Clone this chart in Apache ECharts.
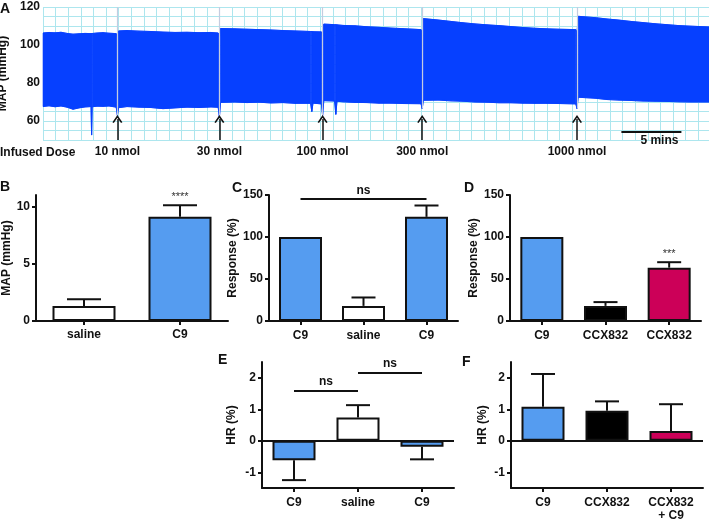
<!DOCTYPE html>
<html>
<head>
<meta charset="utf-8">
<script src="https://cdn.jsdelivr.net/npm/echarts@6/dist/echarts.min.js"></script>
<style>
  html, body { margin: 0; padding: 0; background: #fff; }
  #chart { width: 709px; height: 521px; }
</style>
</head>
<body>
<div id="chart"></div>
<script>
var FONT = '"Liberation Sans", Arial, sans-serif';
var INK = '#111111';
var TRACE_BLUE = '#0640ff';
var BAR_BLUE = '#559cf0';
var BAR_RED = '#cc0058';
var GRID_CYAN = '#ade6ee';

// A: MAP recording, band envelope (mmHg) against time (min)
var traceTime  = [0, 0.5, 1, 1.5, 2, 2.5, 3, 3.5, 4.0, 4.05, 4.1, 4.5, 5, 5.5, 6.1, 6.2, 6.3, 7, 8, 9, 10, 11, 12, 13, 14, 14.6, 14.7, 14.8, 16, 17, 18, 19, 20, 21, 22.3, 22.4, 22.5, 23.2, 23.3, 23.4, 24.3, 24.4, 24.5, 25, 26, 27, 28, 29, 30, 31.5, 31.6, 31.7, 33, 34, 35, 36, 37, 38, 39, 40, 41, 42, 43, 44.4, 44.5, 44.6, 46, 47, 48, 49, 50, 51, 52, 53, 54, 55.5];
var traceUpper = [106.3, 106.6, 106.4, 106.7, 106.1, 105.7, 105.9, 106.1, 106.0, 106.0, 106.0, 106.3, 106.5, 106.2, 106.0, 104.5, 107.4, 107.6, 107.3, 107.1, 106.8, 106.6, 106.7, 106.5, 106.6, 106.3, 104.5, 108.7, 108.5, 108.3, 108.1, 107.9, 107.6, 107.4, 107.1, 107.1, 107.0, 106.9, 105.0, 111.0, 110.7, 110.7, 110.6, 110.3, 110.1, 109.6, 109.3, 108.9, 108.6, 108.1, 106.0, 113.9, 113.1, 112.4, 111.7, 111.1, 110.6, 110.2, 109.7, 109.2, 108.8, 108.5, 108.3, 108.1, 106.0, 115.1, 114.4, 113.7, 113.1, 112.4, 111.8, 111.2, 110.7, 110.2, 109.9, 109.5];
var traceLower = [67.6, 68.0, 67.5, 67.9, 67.3, 66.2, 66.9, 67.4, 67.6, 52.6, 67.5, 67.8, 67.7, 67.9, 67.3, 63.0, 67.0, 67.6, 67.3, 67.1, 66.5, 66.9, 67.3, 67.1, 67.4, 67.2, 62.0, 69.8, 70.0, 69.7, 69.9, 69.5, 69.7, 69.3, 69.3, 65.0, 69.4, 69.0, 63.0, 70.7, 70.5, 63.5, 70.4, 70.1, 69.8, 69.7, 69.4, 69.4, 69.2, 69.1, 66.5, 70.9, 71.0, 70.6, 70.4, 70.0, 69.9, 69.6, 69.6, 69.4, 69.3, 69.3, 69.2, 69.0, 66.5, 72.5, 72.0, 71.3, 71.0, 70.8, 70.5, 70.4, 70.3, 70.1, 70.0, 70.0];
var doseTime   = [6.2, 14.7, 23.3, 31.6, 44.5];
var doseDip    = [63, 62, 63, 66.5, 66.5];
var doseLabels = ['10 nmol', '30 nmol', '100 nmol', '300 nmol', '1000 nmol'];
var mapTicks   = [60, 80, 100, 120];
var scaleBar   = { start: 48.2, length: 5, level: 54.2, text: '5 mins' };

// B: MAP change
var bCats  = ['saline', 'C9'];
var bMean  = [1.3, 9.1];
var bSem   = [0.6, 1.0];
var bStars = ['', '****'];

// C: response
var cCats = ['C9', 'saline', 'C9'];
var cMean = [100, 18, 124];
var cSem  = [0, 10, 13.5];
var cBrackets = [{ from: 0, to: 2, y: 145, text: 'ns' }];

// D: response with CCX832
var dCats  = ['C9', 'CCX832', 'CCX832'];
var dMean  = [100, 18, 63.5];
var dSem   = [0, 4.5, 6.5];
var dStars = ['', '', '***'];

// E: heart rate
var eCats = ['C9', 'saline', 'C9'];
var eMean = [-0.62, 0.74, -0.19];
var eSem  = [0.63, 0.39, 0.4];
var eBrackets = [
  { from: 0, to: 1, y: 1.59, text: 'ns' },
  { from: 1, to: 2, y: 2.15, text: 'ns' }
];

// F: heart rate with CCX832
var fCats = ['C9', 'CCX832', 'CCX832\n+ C9'];
var fMean = [1.08, 0.95, 0.31];
var fSem  = [1.04, 0.3, 0.85];

function txt(size, weight) {
  return { fontFamily: FONT, fontSize: size, fontWeight: weight || 'bold', color: INK };
}

var dom = document.getElementById('chart');
var myChart = echarts.init(dom, null, { renderer: 'canvas' });

var option = {
  animation: false,
  backgroundColor: '#ffffff',
  textStyle: { fontFamily: FONT },
  grid: [
    { left: 43, top: 7, width: 666, height: 133 },
    { left: 36, top: 195, width: 192, height: 126 },
    { left: 269, top: 195, width: 189, height: 126 },
    { left: 510, top: 195, width: 191, height: 126 },
    { left: 262, top: 362, width: 192, height: 126 },
    { left: 511, top: 362, width: 192, height: 126 }
  ].map(function (g) {
    g.containLabel = false;
    g.outerBoundsMode = 'none';
    return g;
  }),
  xAxis: [],
  yAxis: [],
  series: [],
  graphic: []
};

// ---- panel A
option.xAxis.push({
  gridIndex: 0, type: 'value', min: 0, max: 55.5, interval: 1.05,
  axisLine: { show: false }, axisTick: { show: false }, axisLabel: { show: false },
  splitLine: { show: true, lineStyle: { color: GRID_CYAN, width: 1 } }
});
option.yAxis.push({
  gridIndex: 0, type: 'value', min: 50, max: 120, interval: 5,
  name: 'MAP (mmHg)', nameLocation: 'middle', nameRotate: 90, nameGap: 29,
  nameTextStyle: txt(12),
  axisLine: { show: false }, axisTick: { show: false },
  axisLabel: Object.assign({ margin: 3, customValues: mapTicks }, txt(12)),
  splitLine: { show: true, lineStyle: { color: GRID_CYAN, width: 1 } }
});

var ARROW = 'path://M5,0 L10,9 L8.6,10 L5,3.2 L1.4,10 L0,9 Z';
var traceMarks = [];
doseTime.forEach(function (t, i) {
  traceMarks.push([
    { coord: [t, 120], lineStyle: { color: '#c4cce0', width: 1.2, type: 'solid' } },
    { coord: [t, doseDip[i]] }
  ]);
  traceMarks.push([
    { coord: [t, 50], lineStyle: { color: INK, width: 1.5, type: 'solid' },
      label: Object.assign({ show: true, formatter: doseLabels[i], position: 'start', distance: 6 }, txt(12)) },
    { coord: [t, 61], symbol: ARROW, symbolSize: [10, 8] }
  ]);
});
traceMarks.push([
  { coord: [scaleBar.start, scaleBar.level], lineStyle: { color: INK, width: 2, type: 'solid' },
    label: Object.assign({ show: true, formatter: scaleBar.text, position: 'insideEndBottom', distance: 3 }, txt(12)) },
  { coord: [scaleBar.start + scaleBar.length, scaleBar.level] }
]);

// filled band between the envelopes, one quad per time step
option.series.push({
  type: 'custom', xAxisIndex: 0, yAxisIndex: 0, z: 2, silent: true,
  data: traceTime.map(function (t, i) { return [t, traceUpper[i], traceLower[i]]; }),
  encode: { x: 0, y: [1, 2] },
  renderItem: function (params, api) {
    var i = params.dataIndex;
    if (i >= traceTime.length - 1) return null;
    var pts = [
      api.coord([traceTime[i], traceUpper[i]]),
      api.coord([traceTime[i + 1], traceUpper[i + 1]]),
      api.coord([traceTime[i + 1], traceLower[i + 1]]),
      api.coord([traceTime[i], traceLower[i]])
    ];
    return {
      type: 'polygon', shape: { points: pts },
      style: { fill: TRACE_BLUE, stroke: TRACE_BLUE, lineWidth: 0.6 }
    };
  }
});
option.series.push({
  type: 'line', xAxisIndex: 0, yAxisIndex: 0, z: 3, symbol: 'none', silent: true,
  data: traceTime.map(function (t, i) { return [t, traceUpper[i]]; }),
  lineStyle: { color: TRACE_BLUE, width: 1 }
});
option.series.push({
  type: 'line', xAxisIndex: 0, yAxisIndex: 0, z: 3, symbol: 'none', silent: true,
  data: traceTime.map(function (t, i) { return [t, traceLower[i]]; }),
  lineStyle: { color: TRACE_BLUE, width: 1 },
  markLine: {
    silent: true, animation: false, symbol: ['none', 'none'],
    label: { show: false },
    data: traceMarks
  }
});

// ---- bar panels
function errorRenderer(capHalf) {
  return function (params, api) {
    var i = api.value(0), m = api.value(1), s = api.value(2);
    if (!s) return { type: 'group', children: [] };
    var end = m >= 0 ? m + s : m - s;
    var p0 = api.coord([i, m]);
    var p1 = api.coord([i, end]);
    var st = { stroke: INK, lineWidth: 2 };
    return {
      type: 'group',
      children: [
        { type: 'line', shape: { x1: p0[0], y1: p0[1], x2: p1[0], y2: p1[1] }, style: st },
        { type: 'line', shape: { x1: p1[0] - capHalf, y1: p1[1], x2: p1[0] + capHalf, y2: p1[1] }, style: st }
      ]
    };
  };
}

function addBarPanel(p) {
  var g = p.grid;
  option.xAxis.push({
    gridIndex: g, type: 'category', data: p.cats,
    axisLine: { show: true, onZero: false, lineStyle: { color: INK, width: 2 } },
    axisTick: { show: true, alignWithLabel: true, length: 4, lineStyle: { color: INK, width: 2 } },
    axisLabel: Object.assign({ interval: 0, margin: p.labelMargin, lineHeight: 13 }, txt(12)),
    splitLine: { show: false }
  });
  option.yAxis.push({
    gridIndex: g, type: 'value', min: p.yMin, max: p.yMax, interval: p.yStep,
    name: p.yName, nameLocation: 'middle', nameRotate: 90, nameGap: p.nameGap,
    nameTextStyle: txt(12),
    axisLine: { show: true, lineStyle: { color: INK, width: 2 } },
    axisTick: { show: true, length: 4, customValues: p.yTicks, lineStyle: { color: INK, width: 2 } },
    axisLabel: Object.assign({ margin: 6, customValues: p.yTicks }, txt(12)),
    splitLine: { show: false }
  });

  var lines = [];
  if (p.zeroLine) {
    lines.push({ yAxis: 0, label: { show: false }, lineStyle: { color: INK, width: 2, type: 'solid' } });
  }
  (p.brackets || []).forEach(function (b) {
    lines.push([
      { coord: [b.from, b.y], lineStyle: { color: INK, width: 2, type: 'solid' },
        label: Object.assign({ show: true, formatter: b.text, position: 'insideMiddleTop', distance: 3 }, txt(12)) },
      { coord: [b.to, b.y] }
    ]);
  });
  var points = [];
  (p.stars || []).forEach(function (s, i) {
    if (s) points.push({ name: s, coord: [i, p.mean[i] + p.sem[i]] });
  });

  option.series.push({
    type: 'bar', xAxisIndex: g, yAxisIndex: g, barWidth: p.barW, silent: true,
    data: p.mean.map(function (v, i) { return { value: v, itemStyle: { color: p.colors[i] } }; }),
    itemStyle: { borderColor: INK, borderWidth: 2 },
    markLine: { silent: true, animation: false, symbol: ['none', 'none'], label: { show: false }, data: lines },
    markPoint: {
      silent: true, animation: false, symbol: 'circle', symbolSize: 0,
      label: Object.assign({ show: true, position: 'top', distance: 2.5, formatter: '{b}' }, txt(11, 'normal'), { color: '#333' }),
      data: points
    }
  });
  option.series.push({
    type: 'custom', xAxisIndex: g, yAxisIndex: g, silent: true, z: 3,
    data: p.mean.map(function (v, i) { return [i, v, p.sem[i]]; }),
    encode: { x: 0, y: 1 },
    renderItem: errorRenderer(p.capHalf)
  });
}

addBarPanel({ grid: 1, cats: bCats, mean: bMean, sem: bSem, colors: ['#ffffff', BAR_BLUE],
  yMin: 0, yMax: 11, yStep: 5, yTicks: [0, 5, 10], yName: 'MAP (mmHg)', nameGap: 22,
  barW: 63, capHalf: 17, labelMargin: 7, stars: bStars });
addBarPanel({ grid: 2, cats: cCats, mean: cMean, sem: cSem, colors: [BAR_BLUE, '#ffffff', BAR_BLUE],
  yMin: 0, yMax: 150, yStep: 50, yTicks: [0, 50, 100, 150], yName: 'Response (%)', nameGap: 23,
  barW: 43, capHalf: 12, labelMargin: 8, brackets: cBrackets });
addBarPanel({ grid: 3, cats: dCats, mean: dMean, sem: dSem, colors: [BAR_BLUE, '#000000', BAR_RED],
  yMin: 0, yMax: 150, yStep: 50, yTicks: [0, 50, 100, 150], yName: 'Response (%)', nameGap: 25,
  barW: 43, capHalf: 12, labelMargin: 8, stars: dStars });
addBarPanel({ grid: 4, cats: eCats, mean: eMean, sem: eSem, colors: [BAR_BLUE, '#ffffff', BAR_BLUE],
  yMin: -1.5, yMax: 2.5, yStep: 0.5, yTicks: [-1, 0, 1, 2], yName: 'HR (%)', nameGap: 24,
  barW: 43, capHalf: 12, labelMargin: 8, zeroLine: true, brackets: eBrackets });
addBarPanel({ grid: 5, cats: fCats, mean: fMean, sem: fSem, colors: [BAR_BLUE, '#000000', BAR_RED],
  yMin: -1.5, yMax: 2.5, yStep: 0.5, yTicks: [-1, 0, 1, 2], yName: 'HR (%)', nameGap: 22,
  barW: 43, capHalf: 12, labelMargin: 8, zeroLine: true });

// panel letters and side caption
var letters = [['A', 0, 2], ['B', 0, 180], ['C', 232, 181], ['D', 464, 181], ['E', 218, 353], ['F', 462, 355]];
letters.forEach(function (l) {
  option.graphic.push({ type: 'text', left: l[1], top: l[2], silent: true,
    style: { text: l[0], font: 'bold 14px ' + FONT, fill: INK } });
});
option.graphic.push({ type: 'text', left: 0, top: 147, silent: true,
  style: { text: 'Infused Dose', font: 'bold 12px ' + FONT, fill: INK } });

if (option && typeof option === 'object') {
  myChart.setOption(option, true);
}
</script>
</body>
</html>
